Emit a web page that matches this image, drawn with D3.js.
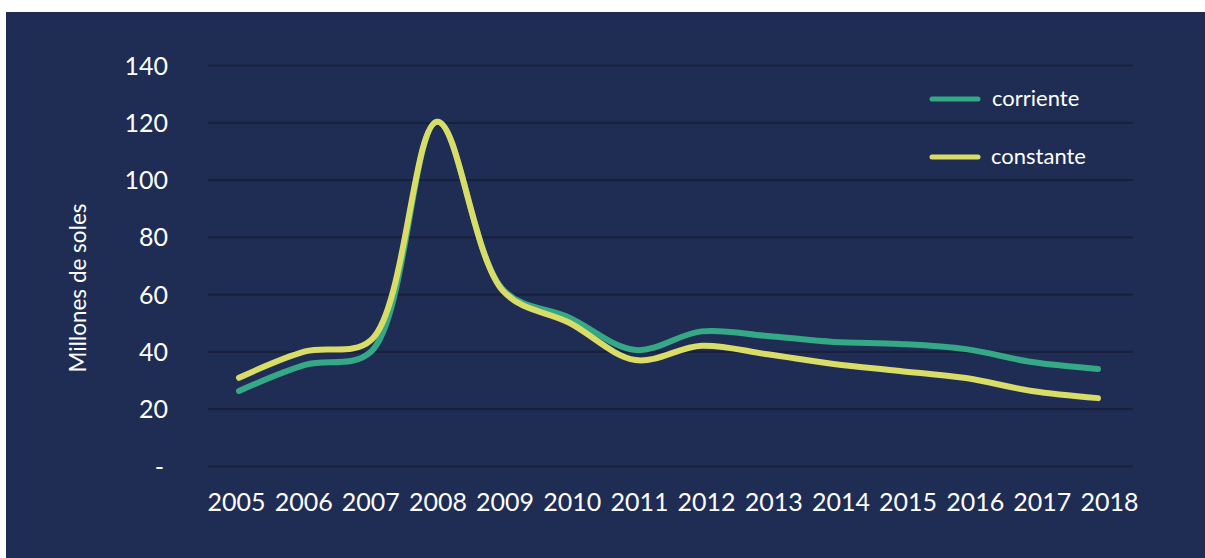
<!DOCTYPE html>
<html><head><meta charset="utf-8">
<script src="https://cdn.jsdelivr.net/npm/d3@7"></script>
<style>
html,body{margin:0;padding:0;background:#fff;}
svg{display:block;font-family:Lato,"Open Sans",sans-serif;}
</style></head>
<body>
<svg id="chart" width="1205" height="558"></svg>
<script>
const years = ["2005","2006","2007","2008","2009","2010","2011","2012","2013","2014","2015","2016","2017","2018"];
const corriente = [26.2,35.3,40,120.2,61.5,51.8,40.5,47,45.4,43.3,42.6,40.8,36.3,33.9];
const constante = [30.8,40,44,120.2,61,50,37,42,39,35.6,33.2,30.7,26.2,23.7];
const yTicks = [0,20,40,60,80,100,120,140];
const yTickLabels = ["-","20","40","60","80","100","120","140"];
const seriesNames = ["corriente","constante"];
const seriesColors = ["#35a986","#d9dc66"];

const svg = d3.select("#chart");
svg.append("rect").attr("x",6).attr("y",12).attr("width",1199).attr("height",546).attr("fill","#1f2d54");

const x = d3.scaleBand().domain(years).range([208,1133]);
const xLab = d3.scalePoint().domain(years).range([236,1109]);
const y = d3.scaleLinear().domain([0,140]).range([466,65]);

// grid
const grid = svg.append("g").call(d3.axisLeft(y).tickValues(yTicks).tickSize(-(1133-208)).tickFormat(""))
  .attr("transform","translate(208,0)");
grid.select(".domain").remove();
grid.selectAll("line").attr("stroke","#18203e").attr("stroke-width",2.2);

// y tick labels
const ya = svg.append("g").attr("transform","translate(168,0)")
  .call(d3.axisLeft(y).tickValues(yTicks).tickSize(0).tickPadding(0).tickFormat((d,i)=>yTickLabels[i]));
ya.select(".domain").remove();
ya.selectAll("text").attr("fill","#ffffff").attr("font-size",25).attr("font-family","Lato").attr("dy","0.36em")
  .attr("dx",(d)=>d===0?-4:0);

// x tick labels
const xa = svg.append("g").attr("transform","translate(0,488)")
  .call(d3.axisBottom(xLab).tickSize(0).tickPadding(0));
xa.select(".domain").remove();
xa.selectAll("text").attr("fill","#ffffff").attr("font-size",25).attr("font-family","Lato").attr("dy","0.93em");

// y title
svg.append("text").attr("transform","translate(86,288) rotate(-90)")
  .attr("text-anchor","middle").attr("fill","#ffffff").attr("font-size",22.5).attr("font-family","Lato")
  .text("Millones de soles");

const line = d3.line().x((d,i)=>x(years[i])+x.bandwidth()/2 - 2).y(d=>y(d)).curve(d3.curveCatmullRom.alpha(0.5));
[corriente,constante].forEach((s,k)=>{
  svg.append("path").datum(s).attr("d",line).attr("fill","none")
    .attr("stroke",seriesColors[k]).attr("stroke-width",6).attr("stroke-linecap","round").attr("stroke-linejoin","round");
});

// legend
const lg = svg.append("g");
seriesNames.forEach((n,k)=>{
  const yy = 99 + k*58;
  lg.append("line").attr("x1",932).attr("x2",978).attr("y1",yy).attr("y2",yy)
    .attr("stroke",seriesColors[k]).attr("stroke-width",5).attr("stroke-linecap","round");
  lg.append("text").attr("x",992 - k).attr("y",yy).attr("dy","0.33em").attr("fill","#ffffff")
    .attr("font-size",22).attr("font-family","Lato").text(n);
});
</script>
</body></html>
